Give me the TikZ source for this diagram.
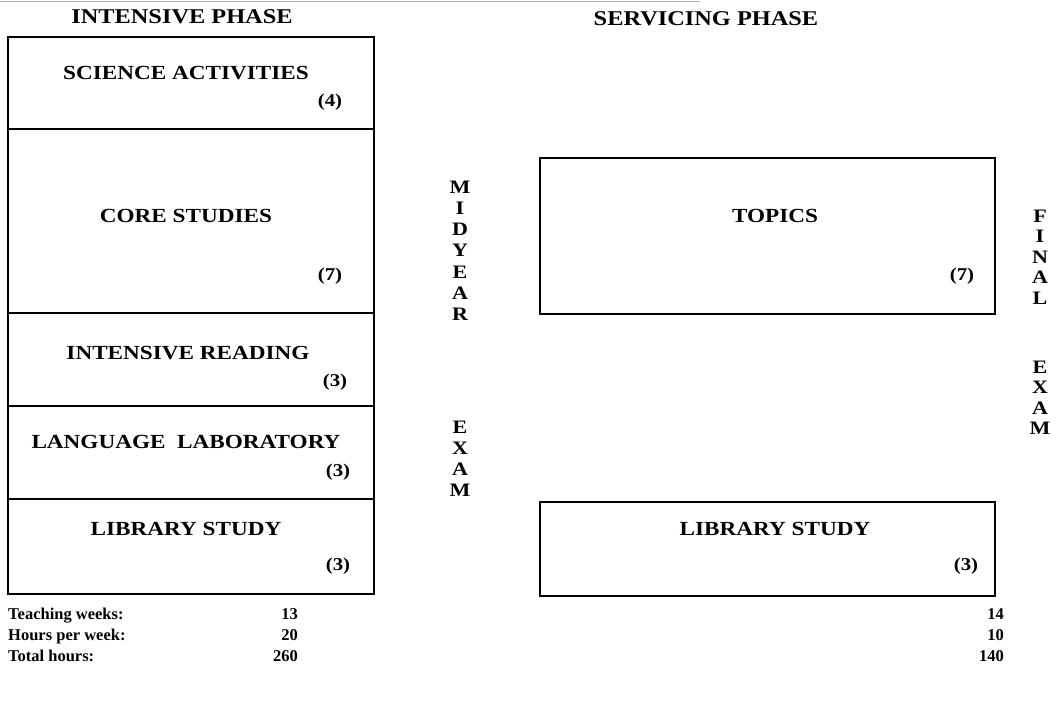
\documentclass[tikz,border=0pt]{standalone}
\usepackage{fontspec}
\setmainfont[FakeStretch=1.16]{Liberation Serif}
\newfontfamily\plainserif{Liberation Serif}
\begin{document}
\begin{tikzpicture}[x=1pt,y=-1pt,
  block/.style={draw, line width=1.8pt, anchor=north west, inner sep=0pt},
  heading/.style={font=\fontsize{21}{23}\selectfont\bfseries},
  title/.style={font=\fontsize{20}{22}\selectfont\bfseries},
  hours/.style={font=\fontsize{18}{20}\selectfont\bfseries},
  letter/.style={font=\fontsize{19}{21}\selectfont\bfseries, inner sep=0pt},
  tally/.style={font=\plainserif\fontsize{16.5}{19}\selectfont\bfseries, inner sep=0pt}]
\useasboundingbox (0,0) rectangle (1056,704);
% faint edge line along the top
\draw[gray!60, line width=1pt] (0,1) -- (700,1);

% phase headings
\node[heading] (hint) at (182,17) {INTENSIVE PHASE};
\node[heading] (hserv) at (706,19) {SERVICING PHASE};

% intensive phase stack
\node[block, minimum width=366pt, minimum height=92pt] (sci) at (7,36) {};
\node[block, minimum width=366pt, minimum height=184pt] (core) at (7,128) {};
\node[block, minimum width=366pt, minimum height=93pt] (read) at (7,312) {};
\node[block, minimum width=366pt, minimum height=93pt] (lang) at (7,405) {};
\node[block, minimum width=366pt, minimum height=95pt] (libA) at (7,498) {};

\node[title] (tsci) at (186,73) {SCIENCE ACTIVITIES};
\node[hours] (nsci) at (330,102) {(4)};
\node[title] (tcore) at (186,216) {CORE STUDIES};
\node[hours] (ncore) at (330,276) {(7)};
\node[title] (tread) at (188,353) {INTENSIVE READING};
\node[hours] (nread) at (335,382) {(3)};
\node[title] (tlang) at (186,442) {LANGUAGE\ \ LABORATORY};
\node[hours] (nlang) at (338,472) {(3)};
\node[title] (tlibA) at (186,529) {LIBRARY STUDY};
\node[hours] (nlibA) at (338,566) {(3)};

% servicing phase blocks
\node[block, minimum width=455pt, minimum height=156pt] (topics) at (539,157) {};
\node[block, minimum width=455pt, minimum height=94pt] (libB) at (539,501) {};
\node[title] (ttopics) at (775,216) {TOPICS};
\node[hours] (ntopics) at (962,276) {(7)};
\node[title] (tlibB) at (775,529) {LIBRARY STUDY};
\node[hours] (nlibB) at (966,566) {(3)};

% midyear exam, written downwards
\foreach \c [count=\i] in {M,I,D,Y,E,A,R}
  \node[letter] (mid\i) at (460,{187+21.2*(\i-1)}) {\c};
\foreach \c [count=\i] in {E,X,A,M}
  \node[letter] (mex\i) at (460,{427+21*(\i-1)}) {\c};

% final exam, written downwards
\foreach \c [count=\i] in {F,I,N,A,L}
  \node[letter] (fin\i) at (1040,{216+20.5*(\i-1)}) {\c};
\foreach \c [count=\i] in {E,X,A,M}
  \node[letter] (fex\i) at (1040,{367+20.5*(\i-1)}) {\c};

% teaching load
\node[tally, anchor=base west] (lweeks) at (8,619) {Teaching weeks:};
\node[tally, anchor=base west] (lhpw) at (8,640) {Hours per week:};
\node[tally, anchor=base west] (ltot) at (8,661) {Total hours:};
\node[tally, anchor=base east] (a1) at (298,619) {13};
\node[tally, anchor=base east] (a2) at (298,640) {20};
\node[tally, anchor=base east] (a3) at (298,661) {260};
\node[tally, anchor=base east] (b1) at (1004,619) {14};
\node[tally, anchor=base east] (b2) at (1004,640) {10};
\node[tally, anchor=base east] (b3) at (1004,661) {140};
\end{tikzpicture}
\end{document}
